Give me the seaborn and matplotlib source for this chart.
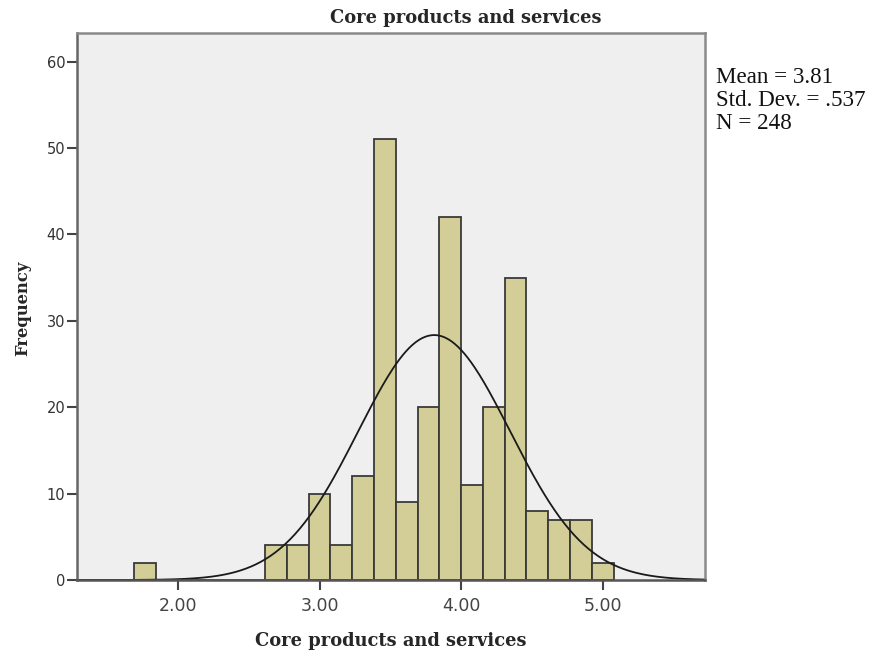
import numpy as np
import pandas as pd
import matplotlib
matplotlib.use("Agg")
import matplotlib.pyplot as plt
import seaborn as sns

# ---- data ----
bin_start = 1.6923          # left edge of first bin
bin_width = 2 / 13          # ~0.1538
counts = [2, 0, 0, 0, 0, 0, 4, 4, 10, 4, 12, 51, 9, 20, 42, 11, 20, 35, 8, 7, 7, 2]
mean_val = 3.81
std_val = 0.537
n_val = 248
x_ticks = [2.0, 3.0, 4.0, 5.0]
x_tick_labels = ["2.00", "3.00", "4.00", "5.00"]
y_ticks = [0, 10, 20, 30, 40, 50, 60]
title = "Core products and services"
x_label = "Core products and services"
y_label = "Frequency"

edges = [float(e) for e in bin_start + bin_width * np.arange(len(counts) + 1)]
centers = [(edges[i] + edges[i + 1]) / 2 for i in range(len(counts))]
df = pd.DataFrame({"value": centers, "count": counts})

sns.set_theme(style="white")
plt.rcParams["font.family"] = ["DejaVu Sans"]

fig = plt.figure(figsize=(8.78, 6.56), dpi=100)
ax = fig.add_axes([77 / 878, 1 - 580 / 656, (705 - 77) / 878, (580 - 33) / 656])
ax.set_facecolor("#efefef")

sns.histplot(data=df, x="value", weights="count", bins=edges, ax=ax,
             color="#d3ce97", alpha=1.0, edgecolor="#3a3a3a", linewidth=1.3)

# normal curve
xs = np.linspace(1.2, 5.8, 400)
ys = n_val * bin_width * np.exp(-0.5 * ((xs - mean_val) / std_val) ** 2) / (std_val * np.sqrt(2 * np.pi))
sns.lineplot(x=xs, y=ys, ax=ax, color="#1a1a1a", linewidth=1.3)

ax.set_xlim(1.287, 5.723)
ax.set_ylim(0, 63.3)
ax.set_xticks(x_ticks)
ax.set_xticklabels(x_tick_labels, fontsize=12.5, color="#444444")
ax.set_yticks(y_ticks)
ax.set_yticklabels([str(v) for v in y_ticks], fontsize=10.5, color="#333333")
ax.tick_params(axis="both", direction="out", length=7, width=1.5, color="#444444",
               bottom=True, left=True, top=False, right=False)
ax.tick_params(axis="x", pad=5)
ax.tick_params(axis="y", pad=1.5)

for side, sp in ax.spines.items():
    sp.set_visible(True)
    sp.set_color("#8a8a8a")
    sp.set_linewidth(1.8)
ax.spines["left"].set_color("#666666")
ax.spines["bottom"].set_color("#555555")

ax.set_xlabel("")
ax.set_ylabel("")
bold_serif = ["DejaVu Serif"]
fig.text(466 / 878, 1 - 18 / 656, title, ha="center", va="center",
         fontsize=12.9, fontweight="bold", family=bold_serif)
fig.text(391 / 878, 1 - 641 / 656, x_label, ha="center", va="center",
         fontsize=12.9, fontweight="bold", family=bold_serif)
fig.text(23 / 878, 1 - 308 / 656, y_label, ha="center", va="center", rotation=90,
         fontsize=11.8, fontweight="bold", family=bold_serif)

stats = f"Mean = {mean_val:.2f}\nStd. Dev. = .{int(round(std_val * 1000))}\nN = {n_val}"
fig.text(716 / 878, 1 - 67 / 656, stats, ha="left", va="top",
         fontsize=16.6, family=["Liberation Serif", "DejaVu Serif"], color="#111111",
         linespacing=1.13)

fig.savefig("out.png", dpi=100)
